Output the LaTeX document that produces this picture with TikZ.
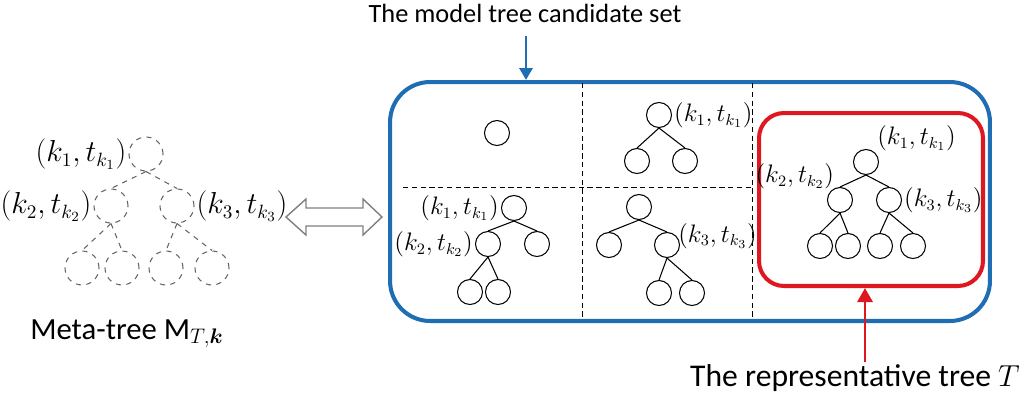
\documentclass[tikz,border=0pt]{standalone}
\usepackage{amsmath}
\usepackage{fontspec}
\setmainfont{Carlito}
\usetikzlibrary{positioning,arrows.meta}
\definecolor{candblue}{RGB}{31,110,180}
\definecolor{repred}{RGB}{222,24,32}
\tikzset{
	tn/.style={circle, draw, line width=0.6pt, minimum size=0.5cm, inner sep=0pt},
	mn/.style={circle, draw=black!60, dashed, line width=0.6pt, minimum size=0.68cm, inner sep=0pt},
	lab/.style={inner sep=1pt, font=\fontsize{13.4}{16}\selectfont},
	mlab/.style={inner sep=1pt, font=\fontsize{16}{19}\selectfont},
	txt/.style={inner sep=0pt, font=\fontsize{15}{18}\selectfont},
	tedge/.style={line width=0.6pt},
	medge/.style={draw=black!60, dashed, line width=0.6pt},
	divider/.style={densely dashed, line width=0.5pt},
}
\begin{document}
\begin{tikzpicture}
			\def \hor{ 0.02 };
			\def \ver{ -0.02 };
			\useasboundingbox (0,0) rectangle (1035*\hor,401*\ver);
			% meta-tree
			\node[mn] (m1) at (146*\hor,154*\ver) {};
			\node[mn] (m2) at (111*\hor,206*\ver) {};
			\node[mn] (m3) at (177*\hor,206*\ver) {};
			\node[mn] (m4) at (82*\hor,268*\ver) {};
			\node[mn] (m5) at (122*\hor,268*\ver) {};
			\node[mn] (m6) at (166*\hor,268*\ver) {};
			\node[mn] (m7) at (212*\hor,268*\ver) {};
			\draw[medge] (m1.south) -- (m2.north);
			\draw[medge] (m1.south) -- (m3.north);
			\draw[medge] (m2.south) -- (m4.north);
			\draw[medge] (m2.south) -- (m5.north);
			\draw[medge] (m3.south) -- (m6.north);
			\draw[medge] (m3.south) -- (m7.north);
			\node[mlab, left=0pt of m1] (lm1) {$(k_1,t_{k_1})$};
			\node[mlab, left=0pt of m2] (lm2) {$(k_2,t_{k_2})$};
			\node[mlab, right=0pt of m3] (lm3) {$(k_3,t_{k_3})$};
			\node[txt, font=\fontsize{17.5}{20}\selectfont, anchor=base] (meta) at (127*\hor,339*\ver) {Meta-tree $\mathrm{M}_{T,\boldsymbol{k}}$};
			% double arrow
			\draw[black!50, fill=white, line width=0.8pt] (286*\hor,217*\ver) -- (306*\hor,199*\ver) -- (306*\hor,208*\ver)
				-- (363*\hor,208*\ver) -- (363*\hor,199*\ver) -- (382*\hor,217*\ver) -- (363*\hor,235*\ver)
				-- (363*\hor,226*\ver) -- (306*\hor,226*\ver) -- (306*\hor,235*\ver) -- cycle;
			% candidate set
			\node[draw=candblue, line width=2.3pt, rounded corners=0.8cm, minimum width=12cm, minimum height=4.78cm] (cand) at (690*\hor,201.5*\ver) {};
			\draw[divider] (582*\hor,83*\ver) -- (582*\hor,320*\ver);
			\draw[divider] (752*\hor,83*\ver) -- (752*\hor,320*\ver);
			\draw[divider] (403*\hor,187*\ver) -- (752*\hor,187*\ver);
			\node[txt, anchor=base] (title) at (525*\hor,22*\ver) {The model tree candidate set};
			\coordinate (bt) at (526*\hor,36*\ver);
			\draw[candblue, line width=1.7pt, -{Triangle[width=0.26cm,length=0.24cm]}] (bt) -- (bt |- cand.north);
			% panel 1
			\node[tn] (c) at (497*\hor,133*\ver) {};
			% panel 2
			\node[tn] (a1) at (659*\hor,115*\ver) {};
			\node[tn] (a2) at (637*\hor,161*\ver) {};
			\node[tn] (a3) at (685*\hor,161*\ver) {};
			\draw[tedge] (a1.south) -- (a2.north);
			\draw[tedge] (a1.south) -- (a3.north);
			\node[lab, right=0pt of a1] (la1) {$(k_1,t_{k_1})$};
			% panel 3
			\node[tn] (b1) at (514*\hor,208*\ver) {};
			\node[tn] (b2) at (488*\hor,244*\ver) {};
			\node[tn] (b3) at (537*\hor,244*\ver) {};
			\node[tn] (b4) at (470*\hor,292*\ver) {};
			\node[tn] (b5) at (498*\hor,292*\ver) {};
			\draw[tedge] (b1.south) -- (b2.north);
			\draw[tedge] (b1.south) -- (b3.north);
			\draw[tedge] (b2.south) -- (b4.north);
			\draw[tedge] (b2.south) -- (b5.north);
			\node[lab, left=0pt of b1] (lb1) {$(k_1,t_{k_1})$};
			\node[lab, left=0pt of b2] (lb2) {$(k_2,t_{k_2})$};
			% panel 4
			\node[tn] (d1) at (639*\hor,207*\ver) {};
			\node[tn] (d2) at (609*\hor,245*\ver) {};
			\node[tn] (d3) at (667*\hor,245*\ver) {};
			\node[tn] (d4) at (659*\hor,293*\ver) {};
			\node[tn] (d5) at (692*\hor,293*\ver) {};
			\draw[tedge] (d1.south) -- (d2.north);
			\draw[tedge] (d1.south) -- (d3.north);
			\draw[tedge] (d3.south) -- (d4.north);
			\draw[tedge] (d3.south) -- (d5.north);
			\node[lab, right=0pt of d3.north east] (ld3) {$(k_3,t_{k_3})$};
			% representative tree
			\node[draw=repred, line width=2.3pt, rounded corners=0.5cm, minimum width=4.48cm, minimum height=3.46cm] (rep) at (871*\hor,199.5*\ver) {};
			\node[tn] (r1) at (866*\hor,162*\ver) {};
			\node[tn] (r2) at (840*\hor,200*\ver) {};
			\node[tn] (r3) at (889*\hor,200*\ver) {};
			\node[tn] (r4) at (820*\hor,246*\ver) {};
			\node[tn] (r5) at (848*\hor,246*\ver) {};
			\node[tn] (r6) at (880*\hor,246*\ver) {};
			\node[tn] (r7) at (913*\hor,246*\ver) {};
			\draw[tedge] (r1.south) -- (r2.north);
			\draw[tedge] (r1.south) -- (r3.north);
			\draw[tedge] (r2.south) -- (r4.north);
			\draw[tedge] (r2.south) -- (r5.north);
			\draw[tedge] (r3.south) -- (r6.north);
			\draw[tedge] (r3.south) -- (r7.north);
			\node[lab, above right=0pt of r1.north east] (lr1) {$(k_1,t_{k_1})$};
			\node[lab, above left=0pt and 0pt of r2.north west, xshift=3pt] (lr2) {$(k_2,t_{k_2})$};
			\node[lab, right=0pt of r3] (lr3) {$(k_3,t_{k_3})$};
			\node[txt, font=\fontsize{18}{21}\selectfont, anchor=base] (reptxt) at (855*\hor,386*\ver) {The representative tree $T$};
			\coordinate (rt) at (865*\hor,362*\ver);
			\draw[repred, line width=1.7pt, -{Triangle[width=0.3cm,length=0.28cm]}] (rt) -- (rt |- rep.south);
		\end{tikzpicture}
\end{document}
